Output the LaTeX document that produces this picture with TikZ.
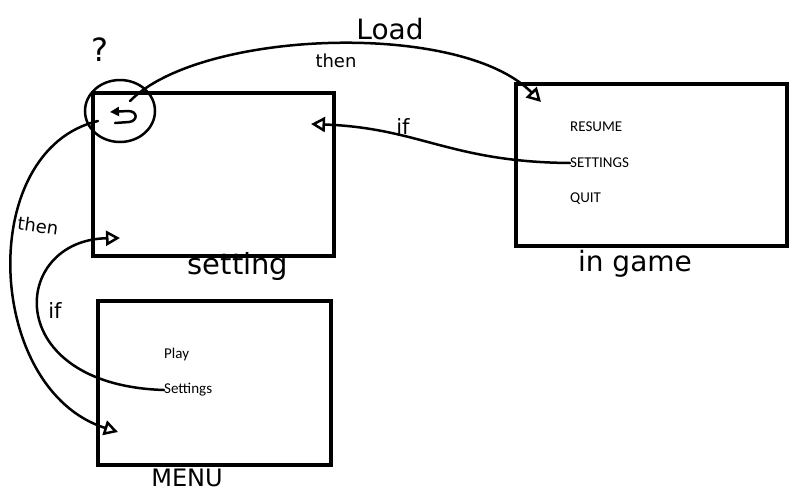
\documentclass[tikz,border=0pt]{standalone}
\usepackage{fontspec}
\setmainfont{Carlito}
\newfontfamily\hand{DejaVu Sans}
\usetikzlibrary{arrows.meta,shapes.geometric}
\begin{document}
\begin{tikzpicture}[x=1pt,y=-1pt,
  screen/.style={draw, line width=4.5pt, inner sep=0pt, outer sep=0pt},
  item/.style={anchor=west, inner sep=0pt, font=\fontsize{15}{17}\selectfont},
  conn/.style={line width=2.5pt, line cap=round, line join=round},
  opentip/.style={-{Triangle[open, length=14pt, width=15pt, line width=2.5pt]}},
  lbl/.style={inner sep=0pt, font=\hand\fontsize{#1}{#1}\selectfont},
  lbl/.default=16]
\useasboundingbox (0,0) rectangle (808,496);
\fill[white] (0,0) rectangle (808,496);
% screens
\node[screen, minimum width=241pt, minimum height=163pt] (setting) at (213.5,174.5) {};
\node[screen, minimum width=271pt, minimum height=162pt] (ingame) at (651.5,165) {};
\node[screen, minimum width=233pt, minimum height=164pt] (menu) at (214.5,383) {};
% items
\node[item] (resume) at (570,127) {RESUME};
\node[item] (gset) at (570,163) {SETTINGS};
\node[item] (quit) at (570,199) {QUIT};
\node[item] (play) at (164,354) {Play};
\node[item] (mset) at (164,390) {Settings};
% screen titles
\node[lbl=29] (tset) at (238,266) {setting};
\node[lbl=28] (tgame) at (635,264) {in game};
\node[lbl=24] (tmenu) at (187,478) {MENU};
% back circle
\node[draw, ellipse, line width=2.5pt, minimum width=70pt, minimum height=62pt] (back) at (120,111) {};
\node[lbl=32] (qm) at (100,50) {?};
\draw[conn, -{Triangle[length=9pt, width=9pt]}] (115,123) -- (129,122) .. controls (138,121) and (138,111) .. (128,111) -- (110,112);
% end points
\coordinate (loadStart) at (130,101);
\coordinate (loadEnd) at (541,102);
\coordinate (ifEnd) at (311,124);
\coordinate (thenStart) at (98,121);
\coordinate (thenEnd) at (118,432);
\coordinate (if2End) at (120,238);
% connectors
\draw[conn, opentip] (loadStart) .. controls (200,30) and (460,20) .. (loadEnd);
\draw[conn, opentip] (gset.west) .. controls (450,162) and (420,128) .. (ifEnd);
\draw[conn, opentip] (thenStart) .. controls (-25,150) and (-15,390) .. (thenEnd);
\draw[conn, opentip] (mset.west) .. controls (0,385) and (10,240) .. (if2End);
% labels
\node[lbl=28] (load) at (390,29) {Load};
\node[lbl=18] (then1) at (336,61) {then};
\node[lbl=21] (if1) at (403,127) {if};
\node[lbl=18, rotate=-8] (then2) at (38,226) {then};
\node[lbl=21] (if2) at (55,311) {if};
\end{tikzpicture}
\end{document}
